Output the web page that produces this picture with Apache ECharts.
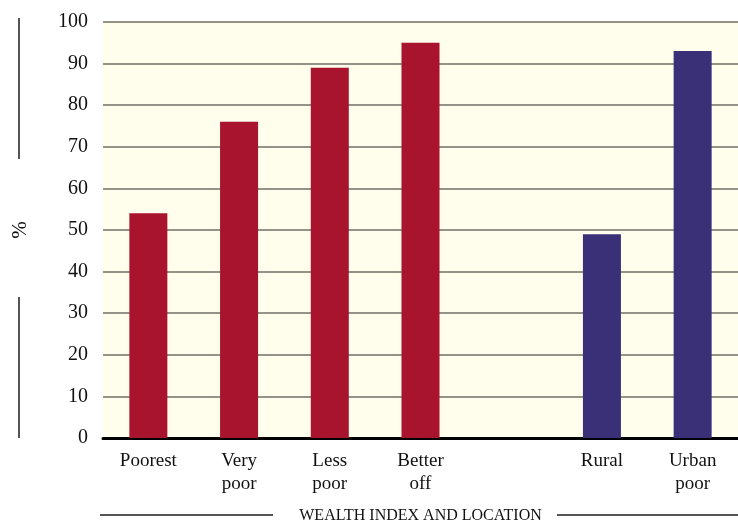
<!DOCTYPE html>
<html><head><meta charset="utf-8">
<script src="https://cdn.jsdelivr.net/npm/echarts@6/dist/echarts.min.js"></script>
<style>html,body{margin:0;padding:0;background:#fff}#c{width:738px;height:521px}</style>
</head><body><div id="c"></div>
<script>
var categories = ['Poorest', 'Very\npoor', 'Less\npoor', 'Better\noff', '', 'Rural', 'Urban\npoor'];
var wealthValues = [54, 76, 89, 95, null, null, null];
var locationValues = [null, null, null, null, null, 49, 93];
var yTicks = [0, 10, 20, 30, 40, 50, 60, 70, 80, 90, 100];

var chart = echarts.init(document.getElementById('c'));
var serif = '"Liberation Serif", "DejaVu Serif", serif';
chart.setOption({
  animation: false,
  backgroundColor: '#ffffff',
  grid: {left: 103, right: 0, top: 22, bottom: 83, show: true, backgroundColor: '#fffdeb', borderWidth: 0,
         containLabel: false, outerBoundsMode: 'none'},
  xAxis: {
    type: 'category', data: categories,
    name: 'WEALTH INDEX AND LOCATION', nameLocation: 'middle', nameGap: 70,
    nameTextStyle: {fontFamily: serif, fontSize: 16, color: '#111'},
    axisLine: {lineStyle: {color: '#000', width: 3}},
    axisTick: {show: false},
    axisLabel: {fontFamily: serif, fontSize: 19, color: '#111', lineHeight: 23, margin: 12, interval: 0}
  },
  yAxis: {
    type: 'value', min: yTicks[0], max: yTicks[yTicks.length - 1], interval: 10,
    name: '%', nameLocation: 'middle', nameGap: 72, nameRotate: 90,
    nameTextStyle: {fontFamily: serif, fontSize: 21, color: '#111'},
    axisLine: {show: false}, axisTick: {show: false},
    axisLabel: {fontFamily: serif, fontSize: 20, color: '#111', margin: 15},
    splitLine: {lineStyle: {color: '#6f6f66', width: 1.5}}
  },
  series: [
    {type: 'bar', data: wealthValues, barWidth: 38, barGap: '-100%', itemStyle: {color: '#a8132e'}},
    {type: 'bar', data: locationValues, barWidth: 38, itemStyle: {color: '#3a3077'}}
  ],
  graphic: [
    {type: 'line', shape: {x1: 19, y1: 18, x2: 19, y2: 159}, style: {stroke: '#555', lineWidth: 2}},
    {type: 'line', shape: {x1: 19, y1: 297, x2: 19, y2: 438}, style: {stroke: '#555', lineWidth: 2}},
    {type: 'line', shape: {x1: 100, y1: 515, x2: 273, y2: 515}, style: {stroke: '#555', lineWidth: 2}},
    {type: 'line', shape: {x1: 557, y1: 515, x2: 738, y2: 515}, style: {stroke: '#555', lineWidth: 2}}
  ]
});
</script></body></html>
